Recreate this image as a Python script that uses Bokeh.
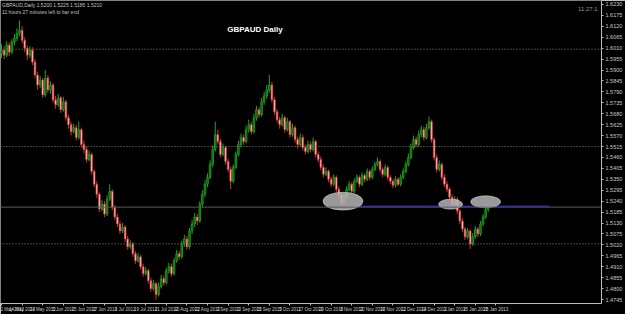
from bokeh.plotting import figure
from bokeh.models import FixedTicker, Range1d, Label, ColumnDataSource, Span, CustomJSTickFormatter
from bokeh.embed import file_html
from bokeh.resources import INLINE

# ---- GBPAUD daily candles ----
opens = [1.5985, 1.6000, 1.5975, 1.6025, 1.5990, 1.6040, 1.6060, 1.6085, 1.6100, 1.6050,
         1.6010, 1.5975, 1.6000, 1.5940, 1.5875, 1.5825, 1.5850, 1.5775, 1.5860, 1.5800,
         1.5825, 1.5750, 1.5725, 1.5760, 1.5700, 1.5740, 1.5660, 1.5625, 1.5590, 1.5610,
         1.5560, 1.5600, 1.5525, 1.5500, 1.5450, 1.5475, 1.5390, 1.5325, 1.5275, 1.5200,
         1.5225, 1.5175, 1.5250, 1.5290, 1.5210, 1.5160, 1.5125, 1.5090, 1.5110, 1.5050,
         1.5010, 1.5025, 1.4975, 1.4940, 1.4960, 1.4910, 1.4875, 1.4890, 1.4840, 1.4800,
         1.4825, 1.4770, 1.4810, 1.4850, 1.4830, 1.4890, 1.4910, 1.4875, 1.4940, 1.4975,
         1.4960, 1.5025, 1.5050, 1.5010, 1.5090, 1.5125, 1.5160, 1.5140, 1.5225, 1.5275,
         1.5325, 1.5360, 1.5425, 1.5500, 1.5575, 1.5540, 1.5475, 1.5510, 1.5440, 1.5400,
         1.5340, 1.5410, 1.5475, 1.5525, 1.5560, 1.5540, 1.5600, 1.5625, 1.5590, 1.5660,
         1.5700, 1.5675, 1.5740, 1.5770, 1.5800, 1.5825, 1.5750, 1.5690, 1.5650, 1.5625,
         1.5660, 1.5600, 1.5640, 1.5575, 1.5610, 1.5550, 1.5525, 1.5560, 1.5510, 1.5490,
         1.5525, 1.5500, 1.5540, 1.5475, 1.5450, 1.5410, 1.5375, 1.5390, 1.5350, 1.5325,
         1.5360, 1.5300, 1.5275, 1.5235, 1.5260, 1.5300, 1.5325, 1.5290, 1.5340, 1.5360,
         1.5325, 1.5370, 1.5350, 1.5390, 1.5360, 1.5400, 1.5425, 1.5440, 1.5400, 1.5375,
         1.5410, 1.5360, 1.5340, 1.5320, 1.5350, 1.5325, 1.5360, 1.5390, 1.5425, 1.5460,
         1.5510, 1.5550, 1.5525, 1.5575, 1.5600, 1.5560, 1.5610, 1.5640, 1.5550, 1.5460,
         1.5400, 1.5425, 1.5360, 1.5325, 1.5300, 1.5260, 1.5225, 1.5250, 1.5190, 1.5140,
         1.5100, 1.5060, 1.5090, 1.5025, 1.5060, 1.5100, 1.5075, 1.5125, 1.5160, 1.5200]
highs = [1.6030, 1.6020, 1.6045, 1.6040, 1.6055, 1.6080, 1.6110, 1.6150, 1.6120, 1.6065,
         1.6025, 1.6020, 1.6015, 1.5955, 1.5890, 1.5870, 1.5860, 1.5900, 1.5875, 1.5845,
         1.5835, 1.5770, 1.5780, 1.5770, 1.5765, 1.5750, 1.5675, 1.5640, 1.5630, 1.5625,
         1.5640, 1.5610, 1.5545, 1.5515, 1.5495, 1.5485, 1.5400, 1.5340, 1.5285, 1.5245,
         1.5240, 1.5270, 1.5325, 1.5300, 1.5220, 1.5175, 1.5140, 1.5130, 1.5120, 1.5065,
         1.5045, 1.5035, 1.4990, 1.4980, 1.4970, 1.4925, 1.4910, 1.4900, 1.4855, 1.4845,
         1.4835, 1.4830, 1.4870, 1.4865, 1.4905, 1.4930, 1.4925, 1.4955, 1.4995, 1.4990,
         1.5040, 1.5070, 1.5065, 1.5105, 1.5145, 1.5180, 1.5175, 1.5240, 1.5295, 1.5345,
         1.5380, 1.5445, 1.5520, 1.5640, 1.5600, 1.5555, 1.5530, 1.5520, 1.5455, 1.5415,
         1.5425, 1.5490, 1.5545, 1.5580, 1.5575, 1.5620, 1.5650, 1.5640, 1.5680, 1.5720,
         1.5715, 1.5760, 1.5790, 1.5825, 1.5875, 1.5840, 1.5765, 1.5705, 1.5665, 1.5680,
         1.5670, 1.5660, 1.5650, 1.5630, 1.5620, 1.5565, 1.5580, 1.5575, 1.5525, 1.5545,
         1.5540, 1.5560, 1.5550, 1.5490, 1.5465, 1.5425, 1.5410, 1.5400, 1.5365, 1.5375,
         1.5370, 1.5315, 1.5285, 1.5280, 1.5315, 1.5340, 1.5335, 1.5355, 1.5375, 1.5370,
         1.5385, 1.5380, 1.5405, 1.5400, 1.5415, 1.5440, 1.5460, 1.5450, 1.5410, 1.5425,
         1.5420, 1.5370, 1.5350, 1.5365, 1.5360, 1.5375, 1.5405, 1.5440, 1.5480, 1.5530,
         1.5570, 1.5565, 1.5595, 1.5620, 1.5615, 1.5630, 1.5665, 1.5650, 1.5560, 1.5475,
         1.5445, 1.5435, 1.5375, 1.5340, 1.5310, 1.5275, 1.5265, 1.5260, 1.5200, 1.5155,
         1.5110, 1.5105, 1.5100, 1.5080, 1.5115, 1.5110, 1.5140, 1.5175, 1.5225, 1.5225]
lows = [1.5960, 1.5955, 1.5965, 1.5970, 1.5980, 1.6025, 1.6045, 1.6070, 1.6035, 1.5990,
        1.5950, 1.5960, 1.5925, 1.5860, 1.5800, 1.5810, 1.5760, 1.5765, 1.5785, 1.5780,
        1.5735, 1.5705, 1.5715, 1.5685, 1.5690, 1.5645, 1.5605, 1.5570, 1.5580, 1.5545,
        1.5550, 1.5510, 1.5480, 1.5435, 1.5440, 1.5375, 1.5310, 1.5255, 1.5185, 1.5190,
        1.5160, 1.5165, 1.5240, 1.5195, 1.5145, 1.5110, 1.5075, 1.5080, 1.5035, 1.4995,
        1.5000, 1.4960, 1.4925, 1.4930, 1.4895, 1.4860, 1.4865, 1.4825, 1.4785, 1.4790,
        1.4745, 1.4760, 1.4800, 1.4815, 1.4820, 1.4875, 1.4860, 1.4865, 1.4930, 1.4945,
        1.4950, 1.5010, 1.4995, 1.5000, 1.5075, 1.5110, 1.5120, 1.5130, 1.5210, 1.5260,
        1.5310, 1.5350, 1.5410, 1.5490, 1.5525, 1.5460, 1.5465, 1.5425, 1.5385, 1.5300,
        1.5330, 1.5400, 1.5465, 1.5510, 1.5525, 1.5530, 1.5585, 1.5575, 1.5580, 1.5645,
        1.5660, 1.5665, 1.5725, 1.5755, 1.5785, 1.5735, 1.5675, 1.5635, 1.5605, 1.5615,
        1.5585, 1.5590, 1.5560, 1.5565, 1.5535, 1.5505, 1.5515, 1.5495, 1.5475, 1.5480,
        1.5485, 1.5490, 1.5460, 1.5435, 1.5395, 1.5360, 1.5365, 1.5335, 1.5310, 1.5315,
        1.5285, 1.5260, 1.5215, 1.5225, 1.5250, 1.5290, 1.5275, 1.5280, 1.5330, 1.5310,
        1.5315, 1.5335, 1.5340, 1.5345, 1.5350, 1.5390, 1.5415, 1.5385, 1.5360, 1.5365,
        1.5345, 1.5325, 1.5305, 1.5310, 1.5315, 1.5315, 1.5350, 1.5380, 1.5415, 1.5450,
        1.5500, 1.5510, 1.5515, 1.5560, 1.5545, 1.5550, 1.5600, 1.5535, 1.5445, 1.5385,
        1.5390, 1.5345, 1.5310, 1.5285, 1.5245, 1.5210, 1.5215, 1.5175, 1.5125, 1.5085,
        1.5045, 1.5050, 1.5000, 1.5015, 1.5050, 1.5060, 1.5065, 1.5115, 1.5150, 1.5185]
closes = [1.6000, 1.5975, 1.6025, 1.5990, 1.6040, 1.6060, 1.6085, 1.6100, 1.6050, 1.6010,
          1.5975, 1.6000, 1.5940, 1.5875, 1.5825, 1.5850, 1.5775, 1.5860, 1.5800, 1.5825,
          1.5750, 1.5725, 1.5760, 1.5700, 1.5740, 1.5660, 1.5625, 1.5590, 1.5610, 1.5560,
          1.5600, 1.5525, 1.5500, 1.5450, 1.5475, 1.5390, 1.5325, 1.5275, 1.5200, 1.5225,
          1.5175, 1.5250, 1.5290, 1.5210, 1.5160, 1.5125, 1.5090, 1.5110, 1.5050, 1.5010,
          1.5025, 1.4975, 1.4940, 1.4960, 1.4910, 1.4875, 1.4890, 1.4840, 1.4800, 1.4825,
          1.4770, 1.4810, 1.4850, 1.4830, 1.4890, 1.4910, 1.4875, 1.4940, 1.4975, 1.4960,
          1.5025, 1.5050, 1.5010, 1.5090, 1.5125, 1.5160, 1.5140, 1.5225, 1.5275, 1.5325,
          1.5360, 1.5425, 1.5500, 1.5575, 1.5540, 1.5475, 1.5510, 1.5440, 1.5400, 1.5340,
          1.5410, 1.5475, 1.5525, 1.5560, 1.5540, 1.5600, 1.5625, 1.5590, 1.5660, 1.5700,
          1.5675, 1.5740, 1.5770, 1.5800, 1.5825, 1.5750, 1.5690, 1.5650, 1.5625, 1.5660,
          1.5600, 1.5640, 1.5575, 1.5610, 1.5550, 1.5525, 1.5560, 1.5510, 1.5490, 1.5525,
          1.5500, 1.5540, 1.5475, 1.5450, 1.5410, 1.5375, 1.5390, 1.5350, 1.5325, 1.5360,
          1.5300, 1.5275, 1.5235, 1.5260, 1.5300, 1.5325, 1.5290, 1.5340, 1.5360, 1.5325,
          1.5370, 1.5350, 1.5390, 1.5360, 1.5400, 1.5425, 1.5440, 1.5400, 1.5375, 1.5410,
          1.5360, 1.5340, 1.5320, 1.5350, 1.5325, 1.5360, 1.5390, 1.5425, 1.5460, 1.5510,
          1.5550, 1.5525, 1.5575, 1.5600, 1.5560, 1.5610, 1.5640, 1.5550, 1.5460, 1.5400,
          1.5425, 1.5360, 1.5325, 1.5300, 1.5260, 1.5225, 1.5250, 1.5190, 1.5140, 1.5100,
          1.5060, 1.5090, 1.5025, 1.5060, 1.5100, 1.5075, 1.5125, 1.5160, 1.5200, 1.5210]

# date labels, one every 8 daily bars (bar index of first label = 0)
date_labels = ["2 May 2012", "14 May 2012", "24 May 2012", "5 Jun 2012", "15 Jun 2012",
               "27 Jun 2012", "9 Jul 2012", "19 Jul 2012", "31 Jul 2012", "10 Aug 2012",
               "22 Aug 2012", "3 Sep 2012", "13 Sep 2012", "25 Sep 2012", "5 Oct 2012",
               "17 Oct 2012", "29 Oct 2012", "8 Nov 2012", "20 Nov 2012", "30 Nov 2012",
               "12 Dec 2012", "24 Dec 2012", "3 Jan 2013", "15 Jan 2013", "25 Jan 2013"]
label_step = 8

price_ticks = [1.6230, 1.6175, 1.6120, 1.6065, 1.6010, 1.5955, 1.5900, 1.5845, 1.5790,
               1.5735, 1.5680, 1.5625, 1.5570, 1.5515, 1.5460, 1.5405, 1.5350, 1.5295,
               1.5240, 1.5185, 1.5130, 1.5075, 1.5020, 1.4965, 1.4910, 1.4855, 1.4800,
               1.4745]

# horizontal levels drawn on the chart
dotted_levels = [1.6005, 1.5515, 1.5025]
bid_level = 1.5210
blue_line = {"x0": 132.6, "x1": 212.8, "y": 1.5215}
# highlighted zones (ellipses): centre bar, centre price, width in bars, height in price
zone_x = [132.6, 174.4, 188.0]
zone_y = [1.5240, 1.5225, 1.5237]
zone_w = [15.5, 9.3, 11.6]
zone_h = [0.0090, 0.0050, 0.0060]

n = len(closes)
xs = list(range(n))
bull = [c >= o for o, c in zip(opens, closes)]
src = ColumnDataSource(dict(
    x=xs, open=opens, close=closes, high=highs, low=lows,
    top=[max(o, c) for o, c in zip(opens, closes)],
    bottom=[min(o, c) for o, c in zip(opens, closes)],
    line=["#1fa51f" if b else "#d83030" for b in bull],
    fill=["#0b5c0b" if b else "#f4e6e6" for b in bull],
))

W, H = 625, 314
p = figure(width=W, height=H, output_backend="svg", toolbar_location=None,
           x_range=Range1d(-0.4, 233.0), y_range=Range1d(1.4725, 1.6250),
           y_axis_location="right",
           min_border_left=0, min_border_top=0, min_border_right=0, min_border_bottom=0,
           background_fill_color="black", border_fill_color="black",
           outline_line_color=None)
p.grid.visible = False

# levels
for lv in dotted_levels:
    p.add_layout(Span(location=lv, dimension="width", line_color="#8c8c8c",
                      line_dash="1 2", line_width=1))
p.add_layout(Span(location=bid_level, dimension="width", line_color="#5a5a5a", line_width=1))

# candles
p.segment(x0="x", x1="x", y0="low", y1="high", source=src, line_color="line", line_width=1)
p.vbar(x="x", width=0.62, top="top", bottom="bottom", source=src,
       fill_color="fill", line_color="line", line_width=0.8)

# blue trend line
p.segment(x0=[blue_line["x0"]], x1=[blue_line["x1"]], y0=[blue_line["y"]], y1=[blue_line["y"]],
          line_color="#1a1ad0", line_width=1.5)

# grey ellipses
p.ellipse(x=zone_x, y=zone_y, width=zone_w, height=zone_h,
          fill_color="#b4b4b4", fill_alpha=0.85, line_color="#d0d0d0", line_alpha=0.6)

# axes styling
xa = p.xaxis[0]
xa.ticker = FixedTicker(ticks=[i * label_step for i in range(len(date_labels))])
xa.major_label_overrides = {i * label_step: lab for i, lab in enumerate(date_labels)}
xa.major_label_text_font_size = "4.5px"
xa.major_label_text_color = "#c8c8c8"
xa.major_label_text_font = "Liberation Sans"
xa.major_label_text_align = "left"
xa.major_label_standoff = 1
xa.axis_line_color = "#bdbdbd"
xa.major_tick_line_color = "#bdbdbd"
xa.major_tick_out = 2
xa.major_tick_in = 0
xa.minor_tick_line_color = None

ya = p.yaxis[0]
ya.ticker = FixedTicker(ticks=price_ticks)
ya.formatter = CustomJSTickFormatter(code="return tick.toFixed(4);")
ya.major_label_text_font_size = "5.5px"
ya.major_label_text_color = "#c8c8c8"
ya.major_label_text_font = "Liberation Sans"
ya.major_label_standoff = 2
ya.axis_line_color = "#bdbdbd"
ya.major_tick_line_color = "#bdbdbd"
ya.major_tick_out = 2
ya.major_tick_in = 0
ya.minor_tick_line_color = None

# texts
p.add_layout(Label(x=98.4, y=1.6105, text="GBPAUD Daily", text_color="white",
                   text_font_size="8px", text_font_style="bold", text_font="Liberation Sans",
                   text_align="center", text_baseline="middle"))
p.add_layout(Label(x=0.2, y=1.6226, text="GBPAUD,Daily  1.5200 1.5225 1.5185 1.5210",
                   text_color="#c0c0c0", text_font_size="5px", text_font="Liberation Sans",
                   text_align="left", text_baseline="middle"))
p.add_layout(Label(x=0.2, y=1.6190, text="11 hours 27 minutes left to bar end",
                   text_color="#c0c0c0", text_font_size="5px", text_font="Liberation Sans",
                   text_align="left", text_baseline="middle"))
p.add_layout(Label(x=231.5, y=1.6205, text="11:27:1", text_color="#9a9a9a",
                   text_font_size="6px", text_font="Liberation Sans",
                   text_align="right", text_baseline="middle"))

open("out.html", "w").write(file_html(p, INLINE))
